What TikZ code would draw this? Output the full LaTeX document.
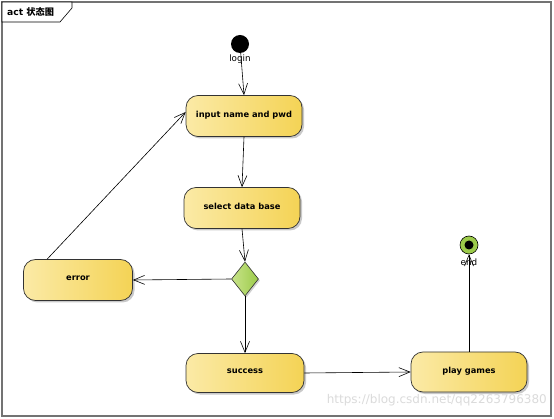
\documentclass[tikz,border=0pt]{standalone}
\usepackage{fontspec}
\setmainfont{DejaVu Sans}
\newfontfamily\cjk{Noto Sans CJK SC}
\usetikzlibrary{arrows.meta,shadows,shapes.geometric}
\definecolor{yl}{HTML}{FBEAA6}
\definecolor{yr}{HTML}{F4D355}
\definecolor{gl}{HTML}{C8E38A}
\definecolor{gr}{HTML}{9CCB4A}
\tikzset{
  statebox/.style={draw=black!80, line width=0.7pt, rounded corners=12pt, left color=yl, right color=yr,
    minimum width=#1, minimum height=41pt, font=\bfseries\fontsize{8.3}{9}\selectfont, text depth=4pt,
    drop shadow={shadow xshift=2pt, shadow yshift=-2pt, opacity=0.35, fill=black!60}},
  flow/.style={draw=black, line width=0.6pt, -{Straight Barb[length=11pt, width=9pt, line width=0.6pt]}},
  lbl/.style={font=\fontsize{8.8}{10}\selectfont, inner sep=0pt}
}
\begin{document}
\begin{tikzpicture}[x=1pt,y=-1pt]
\useasboundingbox (0,0) rectangle (554,419);
\fill[white] (0,0) rectangle (554,419);
% frame
\draw[draw=black!55, line width=1.5pt] (2,2) rectangle (551,416);
\draw[draw=black, line width=0.6pt, fill=white] (2,2) -- (72,2) -- (72,8) -- (60,22) -- (2,22) -- cycle;
\node[anchor=west, inner sep=0pt, font=\bfseries\fontsize{9.2}{10}\selectfont] (title) at (7,12) {act {\cjk 状态图}};
% nodes
\node[circle, fill=black, minimum size=18pt, inner sep=0pt] (init) at (240,44) {};
\node[lbl] (loginlbl) at (240,59) {login};
\node[statebox=116pt] (input) at (244,116) {input name and pwd};
\node[statebox=116pt] (select) at (242,208) {select data base};
\node[diamond, draw=black!80, line width=0.6pt, left color=gl, right color=gr, minimum width=27pt, minimum height=34pt, inner sep=0pt,
  drop shadow={shadow xshift=1.5pt, shadow yshift=-1.5pt, opacity=0.3, fill=black!60}] (dec) at (245,279) {};
\node[statebox=109pt] (error) at (78,280) {error};
\node[statebox=118pt, minimum height=39pt] (success) at (245,373) {success};
\node[statebox=116pt, minimum height=40pt] (play) at (469,372) {play games};
\node[circle, draw=black, line width=0.6pt, fill=gr, minimum size=18pt, inner sep=0pt] (final) at (469,245) {};
\node[circle, fill=black, minimum size=9pt, inner sep=0pt] (finaldot) at (469,245) {};
\node[lbl] (endlbl) at (469,262) {end};
% connectors
\coordinate (errtop) at ([xshift=24pt]error.north west);
\draw[flow] (init) -- (input.north);
\draw[flow] (input.south) -- (select.north);
\draw[flow] (select.south) -- (dec.north);
\draw[flow] (dec.west) -- (error.east);
\draw[flow] (dec.south) -- (success.north);
\draw[flow] (errtop) -- ([yshift=4pt]input.west);
\draw[flow] (success.east) -- (play.west);
\draw[flow] (play.north) -- (final.south);
% watermark
\node[anchor=east, inner sep=0pt, text=black!14, font=\fontsize{12}{14}\selectfont] (wm) at (547,400) {https://blog.csdn.net/qq2263796380};
\end{tikzpicture}
\end{document}
